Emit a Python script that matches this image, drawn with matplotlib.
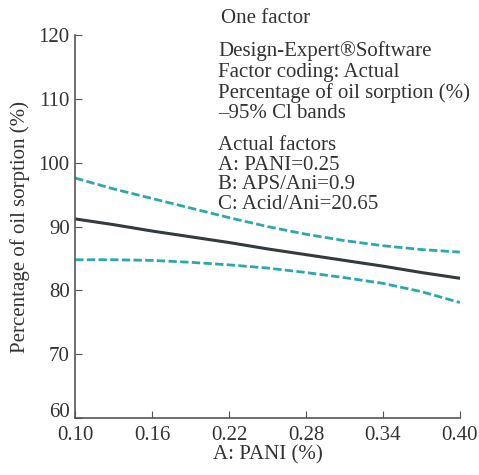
import numpy as np
import matplotlib.pyplot as plt
import matplotlib.transforms as mtransforms

plt.rcParams['font.family'] = ['Liberation Serif', 'DejaVu Serif']

# PANI level and predicted oil sorption with 95% CI bands
pani = [0.10, 0.13, 0.16, 0.19, 0.22, 0.25, 0.28, 0.31, 0.34, 0.37, 0.40]
predicted = [91.2, 90.3, 89.3, 88.4, 87.5, 86.5, 85.6, 84.7, 83.8, 82.8, 81.9]
upper_ci = [97.6, 95.9, 94.4, 92.9, 91.4, 90.0, 88.8, 87.8, 87.0, 86.4, 86.0]
lower_ci = [84.8, 84.8, 84.7, 84.4, 84.0, 83.5, 82.8, 82.0, 81.1, 79.8, 78.1]

xticks = [0.10, 0.16, 0.22, 0.28, 0.34, 0.40]
yticks = [60, 70, 80, 90, 100, 110, 120]

fig = plt.figure(figsize=(4.79, 4.75), dpi=100)
ax = fig.add_axes([0.157, 0.12, 0.803, 0.806])

band_col = '#2ba8ae'
ax.plot(pani, upper_ci, color=band_col, lw=2, ls=(0, (3, 1.2)))
ax.plot(pani, lower_ci, color=band_col, lw=2, ls=(0, (3, 1.2)))
ax.plot(pani, predicted, color='#333b3e', lw=2.2)

ax.set_xlim(0.10, 0.40)
ax.set_ylim(60, 120)
ax.set_xticks(xticks)
ax.set_xticklabels(['%.2f' % v for v in xticks])
ax.set_yticks(yticks)
ax.tick_params(direction='in', length=5, labelsize=15, color='#555555', labelcolor='#333333')
ax.tick_params(axis='x', pad=6)
ax.tick_params(axis='y', pad=4)
for s in ['top', 'right']:
    ax.spines[s].set_visible(False)
for s in ['left', 'bottom']:
    ax.spines[s].set_color('#555555')
    ax.spines[s].set_linewidth(1.2)

# lift the bottom y label so it clears the first x label
lbl = ax.get_yticklabels()[0]
lbl.set_transform(lbl.get_transform() + mtransforms.ScaledTranslation(0, 6 / 72, fig.dpi_scale_trans))

ax.set_xlabel('A: PANI (%)', fontsize=15, color='#333333', labelpad=0)
ax.set_ylabel('Percentage of oil sorption (%)', fontsize=15, color='#333333', labelpad=6)

fig.text(0.462, 0.962, 'One factor', fontsize=15, color='#333333', va='center')
fig.text(0.455, 0.913,
         'Design-Expert\u00aeSoftware\nFactor coding: Actual\n'
         'Percentage of oil sorption (%)\n\u201395% Cl bands',
         fontsize=15, color='#333333', va='top', linespacing=1.1)
fig.text(0.455, 0.714,
         'Actual factors\nA: PANI=0.25\nB: APS/Ani=0.9\nC: Acid/Ani=20.65',
         fontsize=15, color='#333333', va='top', linespacing=1.05)

fig.savefig('out.png', dpi=100)
